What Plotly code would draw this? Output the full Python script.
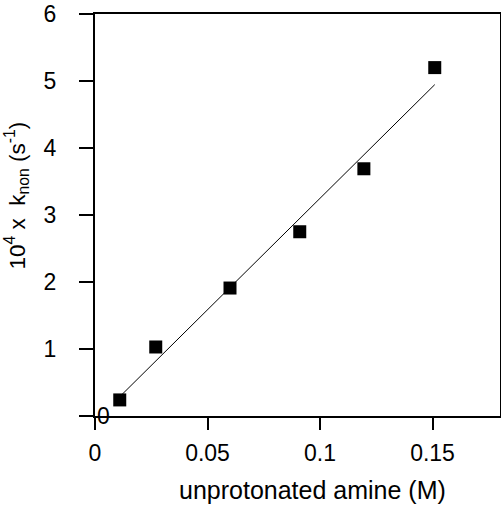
import numpy as np
import plotly.graph_objects as go

amine_M = [0.011, 0.027, 0.060, 0.091, 0.1195, 0.151]
k_non = [0.24, 1.03, 1.91, 2.75, 3.69, 5.20]
x_ticks = [0, 0.05, 0.1, 0.15]
x_tick_text = ["0", "0.05", "0.1", "0.15"]
y_ticks = [0, 1, 2, 3, 4, 5, 6]
y_tick_text = ["", "1", "2", "3", "4", "5", "6"]

slope, intercept = np.polyfit(amine_M, k_non, 1)
fit_x = [min(amine_M), max(amine_M)]
fit_y = [slope * v + intercept for v in fit_x]

font = "Liberation Sans, Arial, Helvetica, sans-serif"

fig = go.Figure()
fig.add_trace(go.Scatter(x=fit_x, y=fit_y, mode="lines",
                         line=dict(color="black", width=1), showlegend=False))
fig.add_trace(go.Scatter(x=amine_M, y=k_non, mode="markers",
                         marker=dict(symbol="square", size=13, color="black"),
                         showlegend=False))

fig.update_layout(
    width=501, height=506,
    margin=dict(l=95, r=1, t=14, b=90),
    plot_bgcolor="white", paper_bgcolor="white",
    font=dict(family=font, size=23, color="black"),
    xaxis=dict(range=[0, 0.18], tickvals=x_ticks, ticktext=x_tick_text,
               ticks="outside", ticklen=12, tickwidth=1.5, tickcolor="black",
               showline=True, linecolor="black", linewidth=2, mirror=True,
               showgrid=False, zeroline=False, ticklabelstandoff=3,
               automargin=False, ticklabeloverflow="allow",
               tickfont=dict(size=23)),
    yaxis=dict(range=[0, 6], tickvals=y_ticks, ticktext=y_tick_text,
               ticks="outside", ticklen=14, tickwidth=1.5, tickcolor="black",
               showline=True, linecolor="black", linewidth=2, mirror=True,
               showgrid=False, zeroline=False, ticklabelstandoff=18,
               automargin=False, ticklabeloverflow="allow",
               tickfont=dict(size=23)),
    annotations=[
        dict(text="0", xref="paper", yref="y", x=0.022, y=0,
             xanchor="center", yanchor="middle", showarrow=False,
             font=dict(size=23)),
        dict(text="10<sup>4</sup> x  k<sub>non</sub> (s<sup>-1</sup>)",
             xref="paper", yref="paper", x=-0.193, y=0.548,
             xanchor="center", yanchor="middle", textangle=-90,
             showarrow=False, font=dict(size=22.5)),
        dict(text="unprotonated amine (M)", xref="paper", yref="paper",
             x=0.538, y=-0.183, xanchor="center", yanchor="middle",
             showarrow=False, font=dict(size=25)),
    ],
)

fig.write_html("out.html", config={"displayModeBar": False})
with open("out.html", encoding="utf-8") as f:
    html = f.read()
html = html.replace("<head>", "<head><style>html,body{margin:0;padding:0;overflow:hidden;}</style>", 1)
with open("out.html", "w", encoding="utf-8") as f:
    f.write(html)
